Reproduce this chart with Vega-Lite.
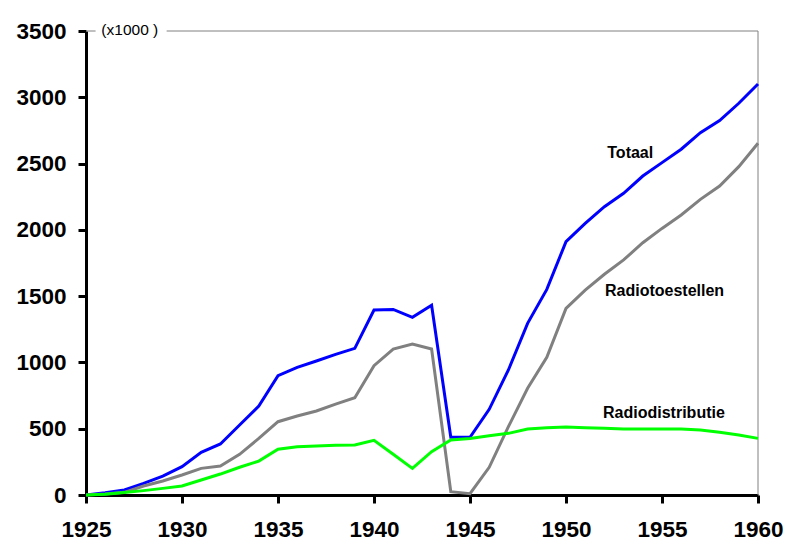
{
  "$schema": "https://vega.github.io/schema/vega-lite/v6.json",
  "autosize": "none",
  "width": 672,
  "height": 464,
  "padding": {"left": 86, "top": 31, "right": 37, "bottom": 63},
  "background": "white",
  "config": {
    "view": {"stroke": null},
    "font": "Liberation Sans",
    "axis": {
      "grid": false,
      "domainColor": "black",
      "domainWidth": 3,
      "tickColor": "black",
      "tickWidth": 3,
      "tickSize": 8,
      "labelFont": "Liberation Sans",
      "labelFontWeight": "bold",
      "labelFontSize": 22.5,
      "labelColor": "black",
      "title": null
    }
  },
  "datasets": {
    "radio": [
      {"year": 1925, "series": "Totaal", "value": 0},
      {"year": 1926, "series": "Totaal", "value": 17},
      {"year": 1927, "series": "Totaal", "value": 38},
      {"year": 1928, "series": "Totaal", "value": 88},
      {"year": 1929, "series": "Totaal", "value": 143},
      {"year": 1930, "series": "Totaal", "value": 214},
      {"year": 1931, "series": "Totaal", "value": 322},
      {"year": 1932, "series": "Totaal", "value": 385},
      {"year": 1933, "series": "Totaal", "value": 528},
      {"year": 1934, "series": "Totaal", "value": 671},
      {"year": 1935, "series": "Totaal", "value": 900},
      {"year": 1936, "series": "Totaal", "value": 963},
      {"year": 1937, "series": "Totaal", "value": 1011},
      {"year": 1938, "series": "Totaal", "value": 1061},
      {"year": 1939, "series": "Totaal", "value": 1106},
      {"year": 1940, "series": "Totaal", "value": 1395},
      {"year": 1941, "series": "Totaal", "value": 1400},
      {"year": 1942, "series": "Totaal", "value": 1340},
      {"year": 1943, "series": "Totaal", "value": 1431},
      {"year": 1944, "series": "Totaal", "value": 435},
      {"year": 1945, "series": "Totaal", "value": 435},
      {"year": 1946, "series": "Totaal", "value": 646},
      {"year": 1947, "series": "Totaal", "value": 943},
      {"year": 1948, "series": "Totaal", "value": 1295},
      {"year": 1949, "series": "Totaal", "value": 1551},
      {"year": 1950, "series": "Totaal", "value": 1911},
      {"year": 1951, "series": "Totaal", "value": 2049},
      {"year": 1952, "series": "Totaal", "value": 2175},
      {"year": 1953, "series": "Totaal", "value": 2276},
      {"year": 1954, "series": "Totaal", "value": 2406},
      {"year": 1955, "series": "Totaal", "value": 2507},
      {"year": 1956, "series": "Totaal", "value": 2608},
      {"year": 1957, "series": "Totaal", "value": 2733},
      {"year": 1958, "series": "Totaal", "value": 2824},
      {"year": 1959, "series": "Totaal", "value": 2955},
      {"year": 1960, "series": "Totaal", "value": 3100},
      {"year": 1925, "series": "Radiotoestellen", "value": 0},
      {"year": 1926, "series": "Radiotoestellen", "value": 8},
      {"year": 1927, "series": "Radiotoestellen", "value": 20},
      {"year": 1928, "series": "Radiotoestellen", "value": 68},
      {"year": 1929, "series": "Radiotoestellen", "value": 106},
      {"year": 1930, "series": "Radiotoestellen", "value": 151},
      {"year": 1931, "series": "Radiotoestellen", "value": 201},
      {"year": 1932, "series": "Radiotoestellen", "value": 219},
      {"year": 1933, "series": "Radiotoestellen", "value": 307},
      {"year": 1934, "series": "Radiotoestellen", "value": 427},
      {"year": 1935, "series": "Radiotoestellen", "value": 553},
      {"year": 1936, "series": "Radiotoestellen", "value": 596},
      {"year": 1937, "series": "Radiotoestellen", "value": 634},
      {"year": 1938, "series": "Radiotoestellen", "value": 686},
      {"year": 1939, "series": "Radiotoestellen", "value": 734},
      {"year": 1940, "series": "Radiotoestellen", "value": 976},
      {"year": 1941, "series": "Radiotoestellen", "value": 1101},
      {"year": 1942, "series": "Radiotoestellen", "value": 1139},
      {"year": 1943, "series": "Radiotoestellen", "value": 1101},
      {"year": 1944, "series": "Radiotoestellen", "value": 25},
      {"year": 1945, "series": "Radiotoestellen", "value": 10},
      {"year": 1946, "series": "Radiotoestellen", "value": 209},
      {"year": 1947, "series": "Radiotoestellen", "value": 515},
      {"year": 1948, "series": "Radiotoestellen", "value": 805},
      {"year": 1949, "series": "Radiotoestellen", "value": 1038},
      {"year": 1950, "series": "Radiotoestellen", "value": 1408},
      {"year": 1951, "series": "Radiotoestellen", "value": 1546},
      {"year": 1952, "series": "Radiotoestellen", "value": 1665},
      {"year": 1953, "series": "Radiotoestellen", "value": 1773},
      {"year": 1954, "series": "Radiotoestellen", "value": 1903},
      {"year": 1955, "series": "Radiotoestellen", "value": 2011},
      {"year": 1956, "series": "Radiotoestellen", "value": 2112},
      {"year": 1957, "series": "Radiotoestellen", "value": 2230},
      {"year": 1958, "series": "Radiotoestellen", "value": 2331},
      {"year": 1959, "series": "Radiotoestellen", "value": 2477},
      {"year": 1960, "series": "Radiotoestellen", "value": 2653},
      {"year": 1925, "series": "Radiodistributie", "value": 0},
      {"year": 1926, "series": "Radiodistributie", "value": 5},
      {"year": 1927, "series": "Radiodistributie", "value": 18},
      {"year": 1928, "series": "Radiodistributie", "value": 33},
      {"year": 1929, "series": "Radiodistributie", "value": 50},
      {"year": 1930, "series": "Radiodistributie", "value": 68},
      {"year": 1931, "series": "Radiodistributie", "value": 113},
      {"year": 1932, "series": "Radiodistributie", "value": 158},
      {"year": 1933, "series": "Radiodistributie", "value": 209},
      {"year": 1934, "series": "Radiodistributie", "value": 256},
      {"year": 1935, "series": "Radiodistributie", "value": 345},
      {"year": 1936, "series": "Radiodistributie", "value": 364},
      {"year": 1937, "series": "Radiodistributie", "value": 370},
      {"year": 1938, "series": "Radiodistributie", "value": 375},
      {"year": 1939, "series": "Radiodistributie", "value": 377},
      {"year": 1940, "series": "Radiodistributie", "value": 412},
      {"year": 1941, "series": "Radiodistributie", "value": 307},
      {"year": 1942, "series": "Radiodistributie", "value": 201},
      {"year": 1943, "series": "Radiodistributie", "value": 327},
      {"year": 1944, "series": "Radiodistributie", "value": 415},
      {"year": 1945, "series": "Radiodistributie", "value": 426},
      {"year": 1946, "series": "Radiodistributie", "value": 447},
      {"year": 1947, "series": "Radiodistributie", "value": 465},
      {"year": 1948, "series": "Radiodistributie", "value": 498},
      {"year": 1949, "series": "Radiodistributie", "value": 508},
      {"year": 1950, "series": "Radiodistributie", "value": 513},
      {"year": 1951, "series": "Radiodistributie", "value": 508},
      {"year": 1952, "series": "Radiodistributie", "value": 503},
      {"year": 1953, "series": "Radiodistributie", "value": 498},
      {"year": 1954, "series": "Radiodistributie", "value": 498},
      {"year": 1955, "series": "Radiodistributie", "value": 498},
      {"year": 1956, "series": "Radiodistributie", "value": 498},
      {"year": 1957, "series": "Radiodistributie", "value": 490},
      {"year": 1958, "series": "Radiodistributie", "value": 473},
      {"year": 1959, "series": "Radiodistributie", "value": 453},
      {"year": 1960, "series": "Radiodistributie", "value": 427}
    ],
    "frame": [
      {"x": 1925, "x2": 1925.5, "y": 3500, "y2": 3500},
      {"x": 1929.2, "x2": 1960, "y": 3500, "y2": 3500},
      {"x": 1960, "x2": 1960, "y": 0, "y2": 3500}
    ],
    "labels": [
      {"year": 1952.15, "value": 2577, "text": "Totaal"},
      {"year": 1952.03, "value": 1539, "text": "Radiotoestellen"},
      {"year": 1951.93, "value": 616, "text": "Radiodistributie"}
    ],
    "unit": [
      {"year": 1925.8, "value": 3505, "text": "(x1000 )"}
    ]
  },
  "layer": [
    {
      "data": {"name": "frame"},
      "mark": {"type": "rule", "color": "#808080", "strokeWidth": 1},
      "encoding": {
        "x": {"field": "x", "type": "quantitative", "scale": {"domain": [1925, 1960], "nice": false, "zero": false}},
        "x2": {"field": "x2"},
        "y": {"field": "y", "type": "quantitative", "scale": {"domain": [0, 3500], "nice": false}},
        "y2": {"field": "y2"}
      }
    },
    {
      "data": {"name": "radio"},
      "mark": {"type": "line", "strokeWidth": 3},
      "encoding": {
        "x": {
          "field": "year",
          "type": "quantitative",
          "scale": {"domain": [1925, 1960], "nice": false, "zero": false},
          "axis": {"values": [1925, 1930, 1935, 1940, 1945, 1950, 1955, 1960], "format": "d", "labelPadding": 15, "labelFlush": false}
        },
        "y": {
          "field": "value",
          "type": "quantitative",
          "scale": {"domain": [0, 3500], "nice": false},
          "axis": {"values": [0, 500, 1000, 1500, 2000, 2500, 3000, 3500], "format": "d", "labelPadding": 12}
        },
        "color": {
          "field": "series",
          "type": "nominal",
          "scale": {"domain": ["Radiodistributie", "Radiotoestellen", "Totaal"], "range": ["#00FF00", "#808080", "#0000FF"]},
          "legend": null
        },
        "order": {"field": "year", "type": "quantitative"}
      }
    },
    {
      "data": {"name": "labels"},
      "mark": {"type": "text", "align": "left", "baseline": "middle", "color": "black", "font": "Liberation Sans", "fontSize": 16, "fontWeight": "bold"},
      "encoding": {
        "x": {"field": "year", "type": "quantitative"},
        "y": {"field": "value", "type": "quantitative"},
        "text": {"field": "text"}
      }
    },
    {
      "data": {"name": "unit"},
      "mark": {"type": "text", "align": "left", "baseline": "middle", "color": "black", "font": "Liberation Sans", "fontSize": 15.5},
      "encoding": {
        "x": {"field": "year", "type": "quantitative"},
        "y": {"field": "value", "type": "quantitative"},
        "text": {"field": "text"}
      }
    }
  ]
}
